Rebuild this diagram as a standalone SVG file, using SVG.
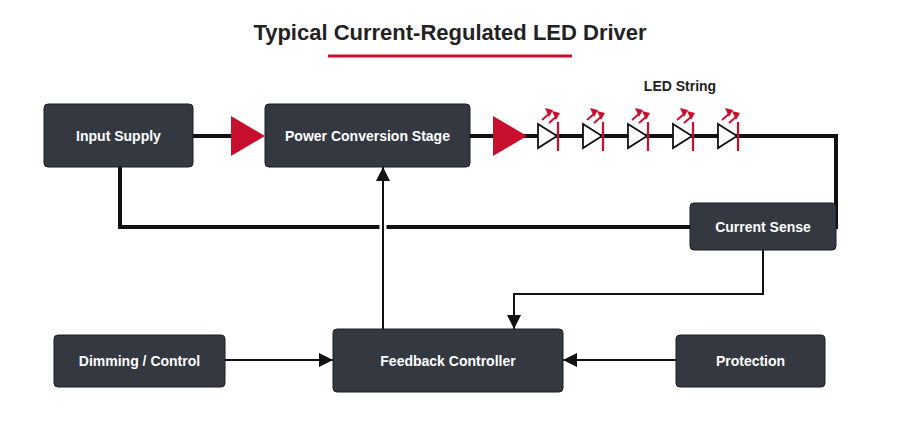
<svg xmlns="http://www.w3.org/2000/svg" width="900" height="423" viewBox="0 0 900 423">
<style>
.box{fill:#343841;stroke:#1b1d22;stroke-width:1}
.t{fill:#fff;font:bold 14px "Liberation Sans",Arial,sans-serif;text-anchor:middle;dominant-baseline:central}
.w{fill:none;stroke:#111;stroke-width:4}
.c{fill:none;stroke:#111;stroke-width:2}
.led{fill:#fff;stroke:#111;stroke-width:1.8}
.bar{stroke:#c8102e;stroke-width:2.2}
.ray{stroke:#c8102e;stroke-width:2;fill:none}
</style>
<defs>
<marker id="a" viewBox="0 0 10 10" refX="10" refY="5" markerWidth="14" markerHeight="14" markerUnits="userSpaceOnUse" orient="auto"><path d="M0,0L10,5L0,10z" fill="#111"/></marker>
<g id="ledg">
<line x1="4" y1="-16" x2="12" y2="-23" class="ray"/><path d="M7,-28L15,-26L11,-19z" fill="#c8102e"/>
<line x1="11" y1="-13" x2="19" y2="-20" class="ray"/><path d="M14,-25L22,-23L18,-16z" fill="#c8102e"/>
<path d="M0,-12L19,0L0,12z" class="led"/>
<line x1="20" y1="-14" x2="20" y2="15" class="bar"/>
</g>
</defs>
<rect width="900" height="423" fill="#fff"/>
<text x="450" y="32" font-family="Liberation Sans,Arial,sans-serif" font-weight="bold" font-size="22" fill="#222" text-anchor="middle" dominant-baseline="central">Typical Current-Regulated LED Driver</text>
<line x1="328" y1="56" x2="572" y2="56" stroke="#c8102e" stroke-width="3"/>
<text x="680" y="86" font-family="Liberation Sans,Arial,sans-serif" font-weight="bold" font-size="14" fill="#222" text-anchor="middle" dominant-baseline="central">LED String</text>
<g id="connectors">
<line x1="193" y1="136" x2="235" y2="136" class="w"/>
<path d="M231,116L265,136L231,156z" fill="#c8102e"/>
<path d="M470,136H836V227H826" class="w"/>
<path d="M493,116L527,136L493,156z" fill="#c8102e"/>
<path d="M120,167V227H690" class="w"/>
<path d="M383,329V169" stroke="#fff" stroke-width="7" fill="none"/>
<path d="M383,329V167" class="c" marker-end="url(#a)"/>
<path d="M763,250V294H514V329" class="c" marker-end="url(#a)"/>
<path d="M225,360H333" class="c" marker-end="url(#a)"/>
<path d="M676,360H563" class="c" marker-end="url(#a)"/>
<use href="#ledg" x="538" y="136"/><use href="#ledg" x="583" y="136"/><use href="#ledg" x="628" y="136"/><use href="#ledg" x="673" y="136"/><use href="#ledg" x="718" y="136"/>
</g>
<g id="input"><rect class="box" x="44" y="104" width="149" height="63" rx="4"/><text class="t" x="118.5" y="136">Input Supply</text></g>
<g id="power"><rect class="box" x="265" y="104" width="205" height="63" rx="4"/><text class="t" x="367.5" y="136">Power Conversion Stage</text></g>
<g id="sense"><rect class="box" x="690" y="203" width="146" height="47" rx="4"/><text class="t" x="763" y="226.5">Current Sense</text></g>
<g id="dimming"><rect class="box" x="54" y="335" width="171" height="52" rx="4"/><text class="t" x="139.5" y="361">Dimming / Control</text></g>
<g id="feedback"><rect class="box" x="333" y="329" width="230" height="63" rx="4"/><text class="t" x="448" y="360.5">Feedback Controller</text></g>
<g id="protection"><rect class="box" x="676" y="335" width="149" height="52" rx="4"/><text class="t" x="750.5" y="361">Protection</text></g>
</svg>
